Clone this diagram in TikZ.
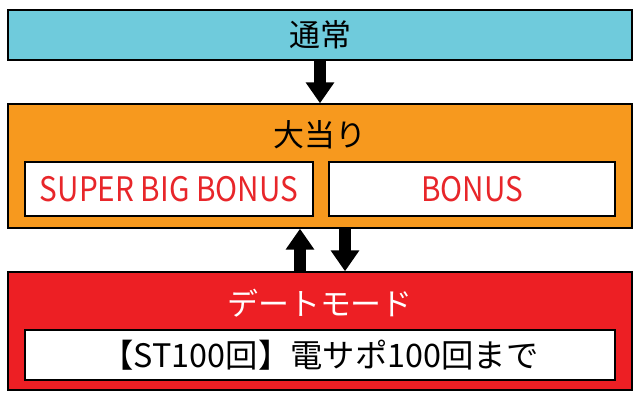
\documentclass[tikz,border=0pt]{standalone}
\usepackage{fontspec}
\setmainfont{Noto Sans CJK JP}
\usetikzlibrary{arrows.meta}
\definecolor{tsujocol}{HTML}{6FCBDC}
\definecolor{oatacol}{HTML}{F7991E}
\definecolor{datecol}{HTML}{ED1F24}
\definecolor{bonustxt}{HTML}{E8262A}
\newcommand{\narrowtxt}[1]{\scalebox{0.88}[1]{#1}}
\tikzset{
  modebox/.style={draw=black,line width=1pt,minimum width=15.6cm,inner sep=0pt},
  whitebox/.style={draw=black,fill=white,line width=1pt,minimum height=1.35cm,inner sep=0pt},
  bigarrow/.style={line width=0.3cm,-{Triangle[width=0.68cm,length=0.52cm]}},
  lbl/.style={font=\fontsize{22}{26}\selectfont},
  bonuslbl/.style={font=\fontsize{24}{28}\selectfont,text=bonustxt}
}
\begin{document}
\begin{tikzpicture}[x=0.025cm,y=-0.025cm]
    \useasboundingbox (0,0) rectangle (640,408);
    % boxes
    \node[modebox,fill=tsujocol,minimum height=1.25cm,lbl] (tsujo) at (320,35) {通常};
    \node[modebox,fill=oatacol,minimum height=3.1cm] (oatari) at (320,166) {};
    \node[lbl] (oataritit) at (320,135) {大当り};
    \node[whitebox,minimum width=7.2cm,bonuslbl] (sbb) at (169,189) {\narrowtxt{SUPER BIG BONUS}};
    \node[whitebox,minimum width=7.15cm,bonuslbl] (bonus) at (472,189) {\narrowtxt{BONUS}};
    \node[modebox,fill=datecol,minimum height=2.95cm] (date) at (320,331) {};
    \node[lbl,text=white] (datetit) at (320,303) {デートモード};
    \node[whitebox,minimum width=14.75cm,minimum height=1.25cm,font=\fontsize{23}{27}\selectfont] (st) at (320,355) {【ST100回】電サポ100回まで};
    % arrows
    \draw[bigarrow] (tsujo.south) -- (oatari.north);
    \draw[bigarrow] ([xshift=-0.5cm]date.north) -- ([xshift=-0.5cm]oatari.south);
    \draw[bigarrow] ([xshift=0.625cm]oatari.south) -- ([xshift=0.625cm]date.north);
\end{tikzpicture}
\end{document}
